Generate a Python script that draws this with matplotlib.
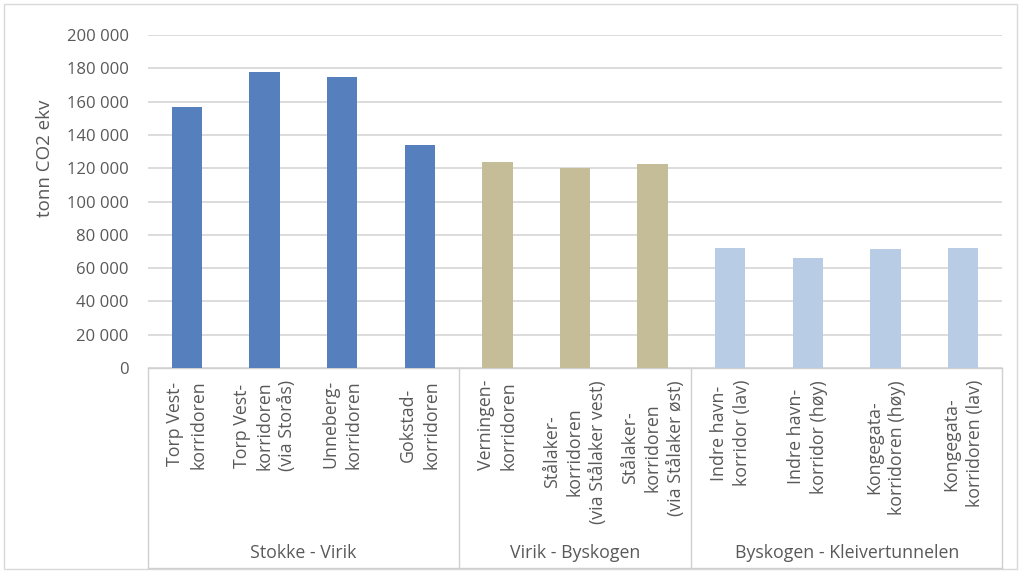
import matplotlib
matplotlib.use("Agg")
import matplotlib.pyplot as plt
from matplotlib.lines import Line2D
from matplotlib.patches import Rectangle
from matplotlib.ticker import FuncFormatter

# ---- data ----
categories = [
    "Torp Vest-\nkorridoren",
    "Torp Vest-\nkorridoren\n(via Storås)",
    "Unneberg-\nkorridoren",
    "Gokstad-\nkorridoren",
    "Verningen-\nkorridoren",
    "Stålaker-\nkorridoren\n(via Stålaker vest)",
    "Stålaker-\nkorridoren\n(via Stålaker øst)",
    "Indre havn-\nkorridor (lav)",
    "Indre havn-\nkorridor (høy)",
    "Kongegata-\nkorridoren (høy)",
    "Kongegata-\nkorridoren (lav)",
]
values = [157000, 178000, 175000, 134000, 123500, 120000, 122500, 72000, 66000, 71500, 72000]
groups = ["Stokke - Virik", "Virik - Byskogen", "Byskogen - Kleivertunnelen"]
group_sizes = [4, 3, 4]
group_colors = ["#5680BD", "#C4BD97", "#B8CCE6"]
yticks = [0, 20000, 40000, 60000, 80000, 100000, 120000, 140000, 160000, 180000, 200000]
ylabel = "tonn CO2 ekv"

TXT = "#595959"
plt.rcParams["font.family"] = ["Open Sans", "DejaVu Sans"]

W, H = 1024, 574
fig = plt.figure(figsize=(W / 100, H / 100), dpi=100)
L, R, T, B = 148, 1002, 35, 368
ax = fig.add_axes([L / W, 1 - B / H, (R - L) / W, (B - T) / H])

colors = []
for c, n in zip(group_colors, group_sizes):
    colors += [c] * n
x = list(range(len(values)))
ax.bar(x, values, width=0.39, color=colors, zorder=3)

ax.set_xlim(-0.5, len(values) - 0.5)
ax.set_ylim(0, 200000)
ax.set_yticks(yticks)
ax.yaxis.set_major_formatter(FuncFormatter(lambda v, p: f"{int(v):,}".replace(",", " ")))
ax.tick_params(axis="y", length=0, pad=14, labelsize=12, labelcolor=TXT)
ax.set_xticks([])
ax.grid(axis="y", color="#D9D9D9", linewidth=1.3, zorder=0)
for s in ["top", "right", "left"]:
    ax.spines[s].set_visible(False)
ax.spines["bottom"].set_color("#D0D0D0")
ax.spines["bottom"].set_linewidth(1.0)

fig.text(45 / W, 1 - 158 / H, ylabel, rotation=90, ha="center", va="center",
         fontsize=13.5, color=TXT)

# category labels
for xi, lab in zip(x, categories):
    xf = (L + (xi + 0.5) * (R - L) / len(values)) / W
    fig.text(xf, 1 - 380 / H, lab, rotation=90, ha="center", va="top",
             multialignment="center", fontsize=12.8, color=TXT, linespacing=1.35)

# group separators and labels
bottom_y = 568
sep_col = "#D0D0D0"
start = 0
edges = [0]
for n in group_sizes:
    start += n
    edges.append(start)
for e in edges:
    xp = L + e * (R - L) / len(values)
    fig.add_artist(Line2D([xp / W, xp / W], [1 - B / H, 1 - bottom_y / H],
                          color=sep_col, linewidth=1.0))
fig.add_artist(Line2D([L / W, R / W], [1 - bottom_y / H, 1 - bottom_y / H],
                      color=sep_col, linewidth=1.0))
for g, a, b in zip(groups, edges[:-1], edges[1:]):
    xc = L + (a + b) / 2 * (R - L) / len(values)
    fig.text(xc / W, 1 - 553 / H, g, ha="center", va="center", fontsize=12.8, color=TXT)

# figure border
fig.add_artist(Rectangle((4 / W, 1 - 569 / H), (1017 - 4) / W, (569 - 4) / H,
                         transform=fig.transFigure, fill=False,
                         edgecolor="#D9D9D9", linewidth=1.0))

fig.savefig("out.png", dpi=100, facecolor="white")
